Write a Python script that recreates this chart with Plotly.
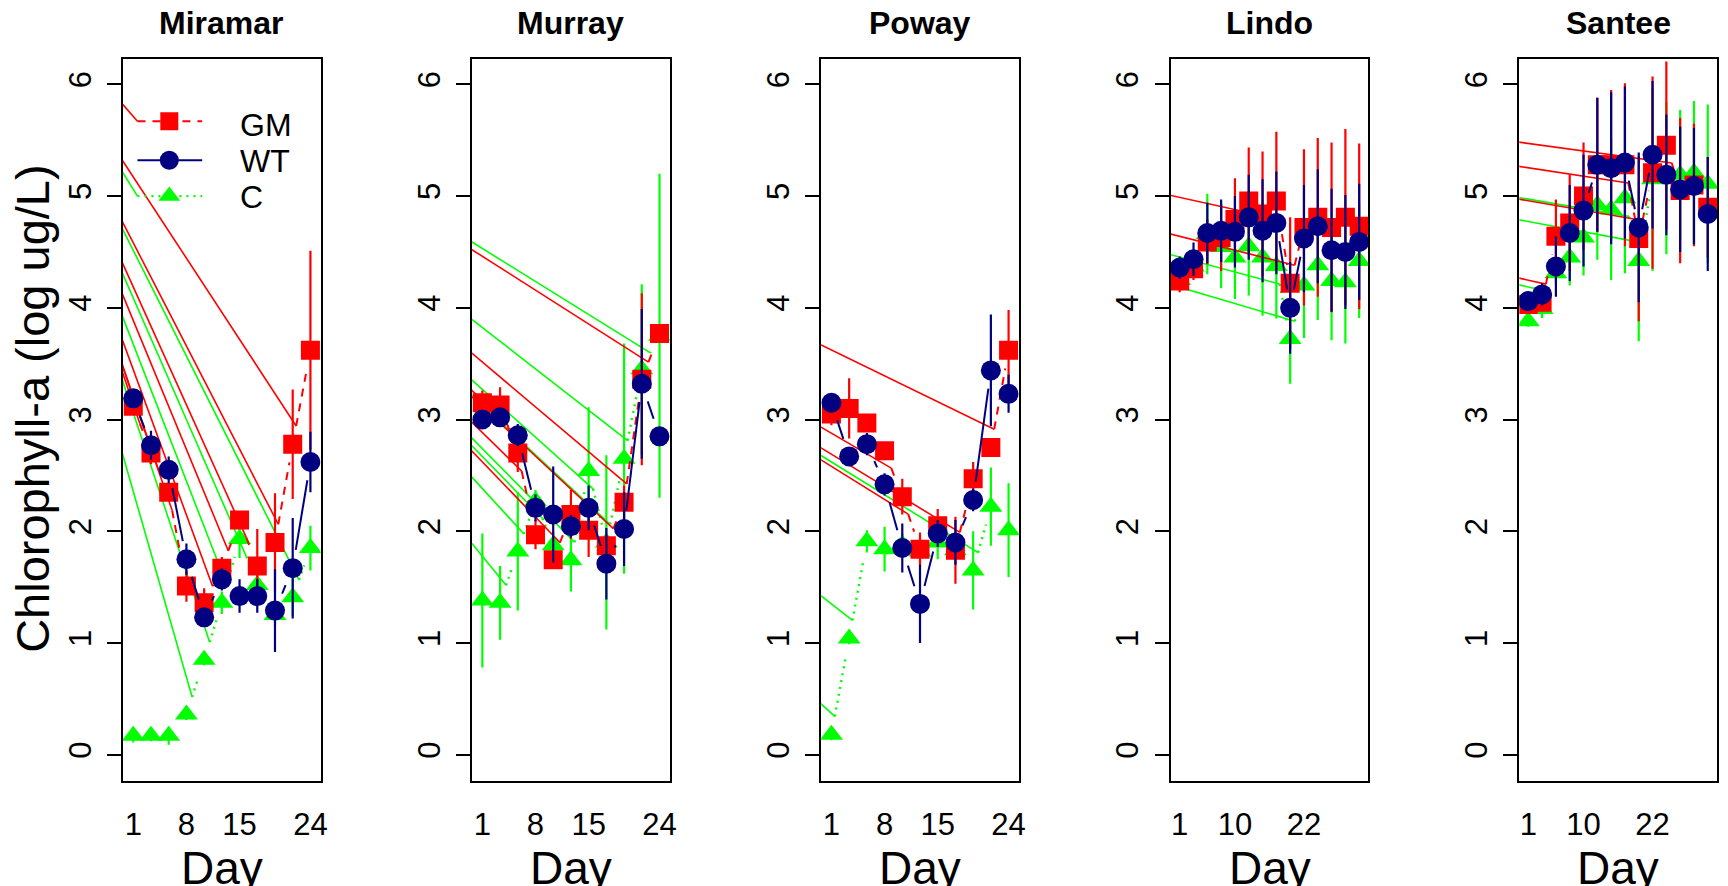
import math
import plotly.graph_objects as go

FIG_W, FIG_H = 1728, 886

SITES = ["Miramar", "Murray", "Poway", "Lindo", "Santee"]

# x = sampling-event index; ticks are labelled with the day
IDX_SHORT = list(range(1, 12))
IDX_LONG = list(range(1, 15))
TICKS_SHORT_POS = [1, 4, 7, 11]
TICKS_SHORT_TXT = ["1", "8", "15", "24"]
TICKS_LONG_POS = [1, 5, 10]
TICKS_LONG_TXT = ["1", "10", "22"]
Y_TICKS = [0, 1, 2, 3, 4, 5, 6]

# ---- Chlorophyll-a (log ug/L): mean and error per sampling event ----
MIRAMAR_GM = [3.12, 2.70, 2.35, 1.51, 1.36, 1.67, 2.10, 1.69, 1.90, 2.78, 3.62]
MIRAMAR_GM_SE = [0.08, 0.10, 0.08, 0.14, 0.13, 0.10, 0.08, 0.33, 0.44, 0.49, 0.89]
MIRAMAR_WT = [3.19, 2.77, 2.55, 1.75, 1.23, 1.57, 1.42, 1.42, 1.29, 1.67, 2.62]
MIRAMAR_WT_SE = [0.08, 0.13, 0.12, 0.14, 0.08, 0.10, 0.15, 0.15, 0.37, 0.45, 0.27]
MIRAMAR_C = [0.17, 0.17, 0.17, 0.36, 0.85, 1.36, 1.93, 1.52, 1.25, 1.41, 1.85]
MIRAMAR_C_SE = [0.06, 0.05, 0.08, 0.05, 0.05, 0.10, 0.17, 0.10, 0.10, 0.17, 0.20]

MURRAY_GM = [3.15, 3.13, 2.70, 1.97, 1.745, 2.15, 2.01, 1.87, 2.26, 3.36, 3.77]
MURRAY_GM_SE = [0.11, 0.16, 0.17, 0.13, 0.06, 0.22, 0.24, 0.10, 0.15, 0.77, 0.08]
MURRAY_WT = [3.00, 3.02, 2.86, 2.21, 2.15, 2.045, 2.21, 1.71, 2.02, 3.32, 2.85]
MURRAY_WT_SE = [0.06, 0.06, 0.10, 0.12, 0.43, 0.10, 0.20, 0.32, 0.33, 0.67, 0.08]
MURRAY_C = [1.38, 1.36, 1.82, 2.27, 1.875, 1.74, 2.54, 1.90, 2.65, 3.45, 3.75]
MURRAY_C_SE = [0.60, 0.33, 0.53, 0.10, 0.13, 0.28, 0.57, 0.78, 1.03, 0.76, 1.45]

POWAY_GM = [3.05, 3.10, 2.97, 2.72, 2.31, 1.84, 2.05, 1.83, 2.47, 2.75, 3.62]
POWAY_GM_SE = [0.10, 0.27, 0.08, 0.08, 0.16, 0.15, 0.15, 0.30, 0.15, 0.08, 0.36]
POWAY_WT = [3.15, 2.67, 2.78, 2.42, 1.85, 1.35, 1.98, 1.90, 2.28, 3.44, 3.23]
POWAY_WT_SE = [0.06, 0.06, 0.10, 0.10, 0.22, 0.35, 0.12, 0.20, 0.10, 0.50, 0.17]
POWAY_C = [0.18, 1.04, 1.91, 1.84, 1.88, 1.82, 1.90, 1.83, 1.65, 2.22, 2.01]
POWAY_C_SE = [0.05, 0.05, 0.10, 0.20, 0.10, 0.10, 0.15, 0.08, 0.35, 0.35, 0.42]

LINDO_GM = [4.24, 4.35, 4.59, 4.63, 4.79, 4.955, 4.84, 4.955, 4.22, 4.72, 4.81, 4.72, 4.81, 4.73]
LINDO_GM_SE = [0.10, 0.10, 0.20, 0.30, 0.37, 0.48, 0.56, 0.62, 0.59, 0.70, 0.71, 0.76, 0.79, 0.74]
LINDO_WT = [4.36, 4.435, 4.67, 4.69, 4.68, 4.81, 4.69, 4.76, 4.00, 4.62, 4.73, 4.515, 4.50, 4.59]
LINDO_WT_SE = [0.10, 0.15, 0.27, 0.28, 0.32, 0.38, 0.46, 0.46, 0.41, 0.48, 0.51, 0.55, 0.51, 0.52]
LINDO_C = [4.25, 4.37, 4.66, 4.545, 4.45, 4.55, 4.45, 4.375, 3.72, 4.20, 4.38, 4.24, 4.23, 4.42]
LINDO_C_SE = [0.08, 0.10, 0.36, 0.37, 0.37, 0.44, 0.52, 0.47, 0.40, 0.47, 0.49, 0.53, 0.55, 0.51]

SANTEE_GM = [4.03, 4.05, 4.64, 4.76, 5.00, 5.28, 5.28, 5.28, 4.62, 5.21, 5.455, 5.05, 5.10, 4.90]
SANTEE_GM_SE = [0.05, 0.08, 0.33, 0.43, 0.48, 0.60, 0.67, 0.73, 0.74, 0.86, 0.75, 0.65, 0.55, 0.45]
SANTEE_WT = [4.06, 4.12, 4.37, 4.67, 4.87, 5.28, 5.25, 5.30, 4.72, 5.37, 5.19, 5.06, 5.09, 4.84]
SANTEE_WT_SE = [0.05, 0.10, 0.27, 0.43, 0.50, 0.60, 0.68, 0.68, 0.67, 0.66, 0.54, 0.56, 0.52, 0.51]
SANTEE_C = [3.88, 3.99, 4.31, 4.45, 4.63, 4.92, 4.88, 4.98, 4.42, 5.15, 5.16, 5.19, 5.21, 5.11]
SANTEE_C_SE = [0.05, 0.08, 0.10, 0.25, 0.34, 0.49, 0.63, 0.67, 0.72, 0.82, 0.68, 0.58, 0.64, 0.71]

PANELS = [
    dict(site="Miramar", idx=IDX_SHORT, tp=TICKS_SHORT_POS, tt=TICKS_SHORT_TXT,
         GM=(MIRAMAR_GM, MIRAMAR_GM_SE), WT=(MIRAMAR_WT, MIRAMAR_WT_SE), C=(MIRAMAR_C, MIRAMAR_C_SE)),
    dict(site="Murray", idx=IDX_SHORT, tp=TICKS_SHORT_POS, tt=TICKS_SHORT_TXT,
         GM=(MURRAY_GM, MURRAY_GM_SE), WT=(MURRAY_WT, MURRAY_WT_SE), C=(MURRAY_C, MURRAY_C_SE)),
    dict(site="Poway", idx=IDX_SHORT, tp=TICKS_SHORT_POS, tt=TICKS_SHORT_TXT,
         GM=(POWAY_GM, POWAY_GM_SE), WT=(POWAY_WT, POWAY_WT_SE), C=(POWAY_C, POWAY_C_SE)),
    dict(site="Lindo", idx=IDX_LONG, tp=TICKS_LONG_POS, tt=TICKS_LONG_TXT,
         GM=(LINDO_GM, LINDO_GM_SE), WT=(LINDO_WT, LINDO_WT_SE), C=(LINDO_C, LINDO_C_SE)),
    dict(site="Santee", idx=IDX_LONG, tp=TICKS_LONG_POS, tt=TICKS_LONG_TXT,
         GM=(SANTEE_GM, SANTEE_GM_SE), WT=(SANTEE_WT, SANTEE_WT_SE), C=(SANTEE_C, SANTEE_C_SE)),
]

# ---- layout geometry (page pixels) ----
PANEL_LEFT_PX = [123.5, 474.0, 824.5, 1175.5, 1525.5]
PANEL_W_PX = 198.5
PANEL_TOP_PX = 59.0
PANEL_BOTTOM_PX = 781.0
X_RANGE_SHORT = [0.42, 11.58]
X_RANGE_LONG = [0.35, 14.67]
Y_RANGE = [-0.235, 6.227]
GAP_PX = 18.5                 # R type="b" gap around each point
ARTIFACT_ORIGIN_PX = (-27.0, -68.0)  # stray moveto origin of the dashed/dotted paths

FONT = "Liberation Sans, Arial, Helvetica, sans-serif"

STYLE = {
    "C": dict(color="#00FF00", dash="2px,5px", symbol="triangle-up", size=20, width=2.4),
    "GM": dict(color="#FF0000", dash="8px,7px", symbol="square", size=19, width=2),
    "WT": dict(color="#000080", dash="solid", symbol="circle", size=20, width=2),
}
SERIES_ORDER = ["C", "GM", "WT"]

LEGEND_LABELS = ["GM", "WT", "C"]
LEGEND_Y = [5.67, 5.32, 5.0]
LEGEND_LINE_PX = (138.0, 203.0, 170.0)     # x start, x end, symbol x
LEGEND_TEXT_PX = (239.0, [124.7, 161.3, 197.2])


def xr_of(k):
    return X_RANGE_SHORT if len(PANELS[k]["idx"]) == 11 else X_RANGE_LONG


def scales(k):
    xr = xr_of(k)
    sx = PANEL_W_PX / (xr[1] - xr[0])
    sy = (PANEL_BOTTOM_PX - PANEL_TOP_PX) / (Y_RANGE[1] - Y_RANGE[0])
    return xr, sx, sy


def to_px(k, x, y):
    xr, sx, sy = scales(k)
    return PANEL_LEFT_PX[k] + (x - xr[0]) * sx, PANEL_BOTTOM_PX - (y - Y_RANGE[0]) * sy


def to_data(k, px, py):
    xr, sx, sy = scales(k)
    return xr[0] + (px - PANEL_LEFT_PX[k]) / sx, Y_RANGE[0] + (PANEL_BOTTOM_PX - py) / sy


def gapped_segments(k, xs, ys):
    segs = []
    for i in range(len(xs) - 1):
        p0 = to_px(k, xs[i], ys[i])
        p1 = to_px(k, xs[i + 1], ys[i + 1])
        dx, dy = p1[0] - p0[0], p1[1] - p0[1]
        d = math.hypot(dx, dy)
        if d > 2 * GAP_PX:
            ux, uy = dx / d, dy / d
            a = to_data(k, p0[0] + ux * GAP_PX, p0[1] + uy * GAP_PX)
            b = to_data(k, p1[0] - ux * GAP_PX, p1[1] - uy * GAP_PX)
            segs.append((a, b))
    return segs


fig = go.Figure()
annotations = []
layout_axes = {}

for k, P in enumerate(PANELS):
    xa = "x" if k == 0 else f"x{k + 1}"
    ya = "y" if k == 0 else f"y{k + 1}"
    xs = P["idx"]
    origin = to_data(k, *ARTIFACT_ORIGIN_PX)
    for s in SERIES_ORDER:
        st = STYLE[s]
        vals, se = P[s]
        segs = gapped_segments(k, xs, vals)
        starts = [a for a, b in segs]
        if k == 0 and s in ("GM", "C"):
            li = LEGEND_LABELS.index(s)
            starts.append(to_data(k, LEGEND_LINE_PX[0], to_px(k, 1, LEGEND_Y[li])[1]))
        if s in ("GM", "C"):
            dx, dy = [], []
            for a in starts:
                dx += [origin[0], a[0], None]
                dy += [origin[1], a[1], None]
            fig.add_trace(go.Scatter(x=dx, y=dy, xaxis=xa, yaxis=ya, mode="lines",
                                     line=dict(color=st["color"], width=1.6),
                                     hoverinfo="skip", showlegend=False))
        lx, ly = [], []
        for a, b in segs:
            lx += [a[0], b[0], None]
            ly += [a[1], b[1], None]
        fig.add_trace(go.Scatter(x=lx, y=ly, xaxis=xa, yaxis=ya, mode="lines",
                                 line=dict(color=st["color"], width=st["width"], dash=st["dash"]),
                                 hoverinfo="skip", showlegend=False))
        fig.add_trace(go.Scatter(x=xs, y=vals, xaxis=xa, yaxis=ya, mode="markers",
                                 marker=dict(symbol=st["symbol"], size=st["size"], color=st["color"],
                                             line=dict(width=0)),
                                 error_y=dict(type="data", array=se, visible=True, thickness=2.2,
                                              width=0, color=st["color"]),
                                 name=s, showlegend=False))

    left = PANEL_LEFT_PX[k]
    layout_axes["xaxis" if k == 0 else f"xaxis{k + 1}"] = dict(
        domain=[left / FIG_W, (left + PANEL_W_PX) / FIG_W], range=xr_of(k), anchor=ya,
        tickmode="array", tickvals=P["tp"], ticktext=P["tt"], ticks="outside", ticklen=15,
        tickcolor="rgba(0,0,0,0)", showline=True, mirror=True, linecolor="black", linewidth=2,
        showgrid=False, zeroline=False, tickfont=dict(family=FONT, size=31, color="black"))
    layout_axes["yaxis" if k == 0 else f"yaxis{k + 1}"] = dict(
        domain=[1 - PANEL_BOTTOM_PX / FIG_H, 1 - PANEL_TOP_PX / FIG_H], range=Y_RANGE, anchor=xa,
        tickmode="array", tickvals=Y_TICKS, ticks="outside", ticklen=14, tickwidth=2,
        tickcolor="black", tickangle=-90, ticklabelstandoff=4,
        showline=True, mirror=True, linecolor="black", linewidth=2,
        showgrid=False, zeroline=False, tickfont=dict(family=FONT, size=31, color="black"))

    cx = (left + PANEL_W_PX / 2) / FIG_W
    annotations.append(dict(text=f"<b>{P['site']}</b>", x=cx, y=1 - 23.5 / FIG_H, xref="paper",
                            yref="paper", xanchor="center", yanchor="middle", showarrow=False,
                            font=dict(family=FONT, size=32, color="black")))
    annotations.append(dict(text="Day", x=cx, y=1 - 868 / FIG_H, xref="paper", yref="paper",
                            xanchor="center", yanchor="middle", showarrow=False,
                            font=dict(family=FONT, size=46, color="black")))

# legend drawn inside the first panel
for li, s in enumerate(LEGEND_LABELS):
    st = STYLE[s]
    x0, _ = to_data(0, LEGEND_LINE_PX[0], 0)
    x1, _ = to_data(0, LEGEND_LINE_PX[1], 0)
    xm, _ = to_data(0, LEGEND_LINE_PX[2], 0)
    fig.add_trace(go.Scatter(x=[x0, x1], y=[LEGEND_Y[li]] * 2, mode="lines",
                             line=dict(color=st["color"], width=st["width"], dash=st["dash"]),
                             hoverinfo="skip", showlegend=False))
    fig.add_trace(go.Scatter(x=[xm], y=[LEGEND_Y[li]], mode="markers",
                             marker=dict(symbol=st["symbol"], size=st["size"] - 1, color=st["color"]),
                             hoverinfo="skip", showlegend=False))
    annotations.append(dict(text=s, x=LEGEND_TEXT_PX[0] / FIG_W, y=1 - LEGEND_TEXT_PX[1][li] / FIG_H,
                            xref="paper", yref="paper", xanchor="left", yanchor="middle",
                            showarrow=False, font=dict(family=FONT, size=32, color="black")))

annotations.append(dict(text="Chlorophyll-a (log ug/L)", x=32 / FIG_W, y=1 - 408 / FIG_H,
                        xref="paper", yref="paper", xanchor="center", yanchor="middle",
                        textangle=-90, showarrow=False,
                        font=dict(family=FONT, size=47, color="black")))

fig.update_layout(width=FIG_W, height=FIG_H, autosize=False,
                  margin=dict(l=0, r=0, t=0, b=0, pad=0),
                  paper_bgcolor="white", plot_bgcolor="white",
                  annotations=annotations, showlegend=False, **layout_axes)

fig.write_html("out.html")
